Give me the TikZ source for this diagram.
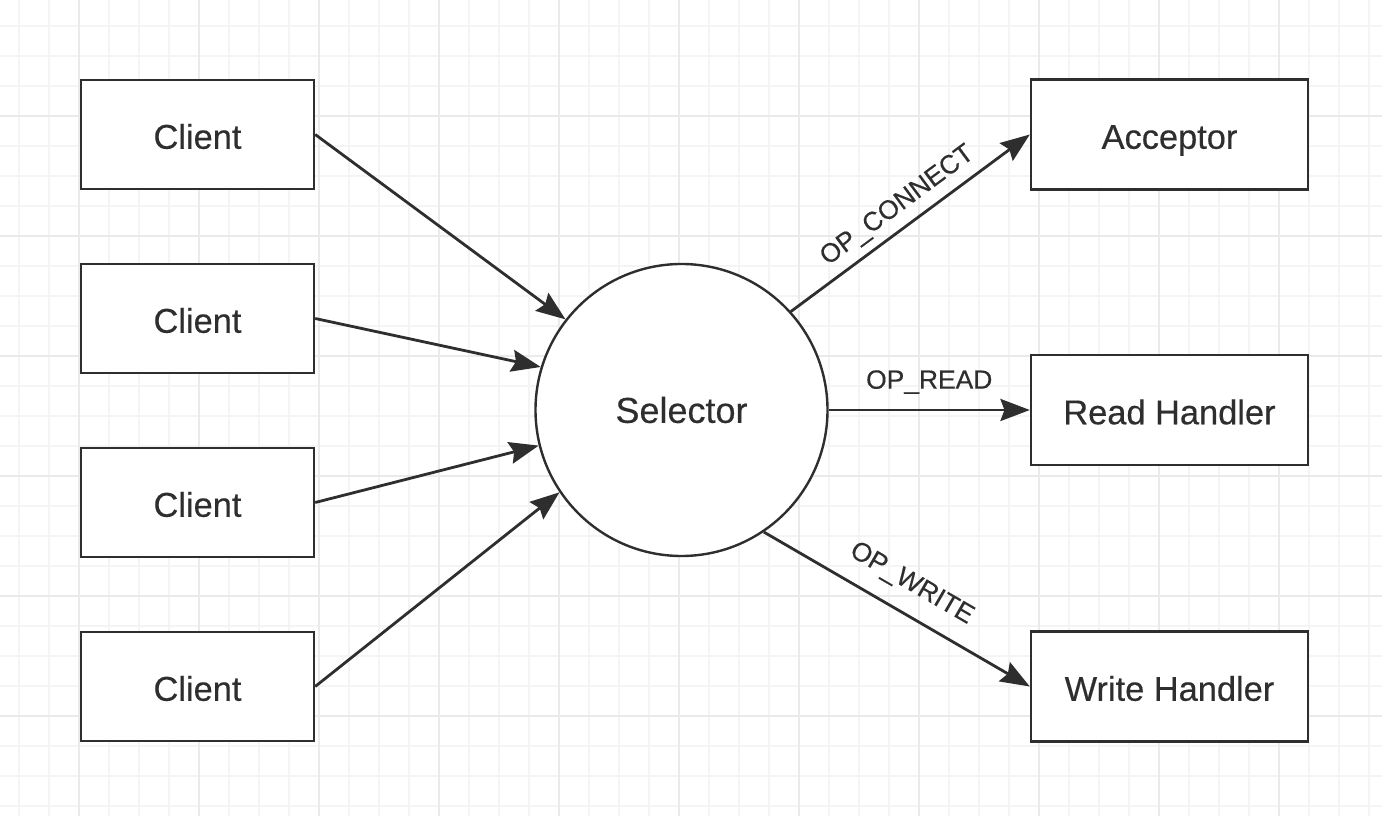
\documentclass[tikz,border=0pt]{standalone}
\usepackage{fontspec}
\setmainfont{Liberation Sans}[FakeBold=0.35]
\usetikzlibrary{arrows.meta}
\definecolor{ink}{HTML}{2E2E2E}
\definecolor{gridminor}{HTML}{F4F4F4}
\definecolor{gridmajor}{HTML}{EAEAEA}
\tikzset{
  box/.style={draw=ink, line width=1.8pt, fill=white, text=ink, minimum width=174.75pt, minimum height=81.75pt, inner sep=0pt, font=\fontsize{25.8pt}{30pt}\selectfont, text height=21.4pt, text depth=0pt},
  rbox/.style={box, minimum width=207.75pt, minimum height=82.5pt},
  hub/.style={draw=ink, line width=1.8pt, fill=white, circle, minimum size=219pt, inner sep=0pt, text=ink, font=\fontsize{27pt}{31pt}\selectfont, text height=19.3pt, text depth=0pt},
  link/.style={draw=ink, line width=2.1pt, -{Stealth[length=22pt, width=16.5pt, inset=3pt]}},
  lbl/.style={text=ink, inner sep=0pt, font=\fontsize{19.8pt}{23pt}\selectfont}
}
\begin{document}
\begin{tikzpicture}[x=0.75pt, y=-0.75pt]
\useasboundingbox (0,0) rectangle (1382,816);
\fill[white] (0,0) rectangle (1382,816);
% grid
\foreach \i in {0,...,45} {\draw[gridminor, line width=1.1pt] ({19+30*\i},0) -- ({19+30*\i},816);}
\foreach \j in {0,...,26} {\draw[gridminor, line width=1.1pt] (0,{26+30*\j}) -- (1382,{26+30*\j});}
\foreach \i in {0,...,10} {\draw[gridmajor, line width=1.4pt] ({79+120*\i},0) -- ({79+120*\i},816);}
\foreach \j in {0,...,6} {\draw[gridmajor, line width=1.4pt] (0,{-4+120*\j}) -- (1382,{-4+120*\j});}
% nodes
\node[box] (c1) at (197.5,134.5) {Client};
\node[box] (c2) at (197.5,318.5) {Client};
\node[box] (c3) at (197.5,502.5) {Client};
\node[box] (c4) at (197.5,686.5) {Client};
\node[hub] (sel) at (681.5,410) {Selector};
\node[rbox] (acc) at (1169.5,134.5) {Acceptor};
\node[rbox] (rh) at (1169.5,410) {Read Handler};
\node[rbox] (wh) at (1169.5,686.5) {Write Handler};
% connectors
\draw[link] (c1.east) -- (sel.142.6);
\draw[link] (c2.east) -- (sel.163.8);
\draw[link] (c3.east) -- (sel.194.7);
\draw[link] (c4.east) -- (sel.214.5);
\draw[link] (sel.42.5) -- node[lbl, midway, sloped, above=6pt] {OP\_CONNECT} (acc.west);
\draw[link] (sel.east) -- node[lbl, midway, above=11pt] {OP\_READ} (rh.west);
\draw[link] (sel.304.4) -- node[lbl, midway, sloped, above=12pt] {OP\_WRITE} (wh.west);
\end{tikzpicture}
\end{document}
